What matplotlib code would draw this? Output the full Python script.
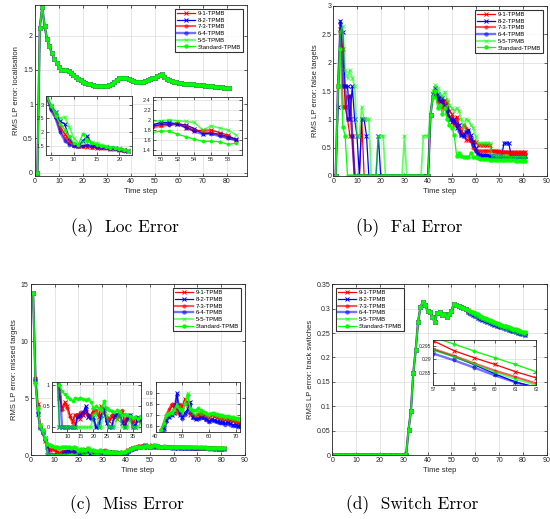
import numpy as np
import matplotlib
matplotlib.use("Agg")
import matplotlib.pyplot as plt

# ---------------- data ----------------
names = ["9-1-TPMB", "8-2-TPMB", "7-3-TPMB", "6-4-TPMB", "5-5-TPMB", "Standard-TPMB"]

# (a) localisation error: main curves overlap for all series
loc_common = [0.0, 2.12, 2.42, 2.15, 1.95, 1.85, 1.75, 1.66, 1.6, 1.55,
              1.5, 1.5, 1.5, 1.48, 1.45, 1.42, 1.4, 1.37, 1.35, 1.33,
              1.31, 1.3, 1.29, 1.28, 1.27, 1.27, 1.265, 1.265, 1.27, 1.27,
              1.28, 1.3, 1.33, 1.36, 1.38, 1.39, 1.39, 1.38, 1.37, 1.35,
              1.34, 1.33, 1.33, 1.33, 1.33, 1.34, 1.35, 1.37, 1.38, 1.39,
              1.41, 1.42, 1.44, 1.4, 1.37, 1.35, 1.34, 1.33, 1.32, 1.31,
              1.31, 1.3, 1.3, 1.295, 1.29, 1.29, 1.285, 1.28, 1.28, 1.275,
              1.27, 1.27, 1.265, 1.26, 1.255, 1.25, 1.25, 1.245, 1.24, 1.235, 1.23]
loc_steps = list(range(1, 82))

# (a) left inset (time steps 4..22)
loc_in1_t = list(range(4, 23))
loc_in1 = [
    [3.4, 2.9, 2.6, 2.2, 1.95, 1.7, 1.55, 1.5, 1.5, 1.48, 1.47, 1.45, 1.45, 1.42, 1.4, 1.38, 1.37, 1.35, 1.33],
    [3.4, 2.95, 2.75, 2.4, 2.3, 1.8, 1.55, 1.5, 1.7, 1.85, 1.55, 1.5, 1.48, 1.47, 1.45, 1.45, 1.4, 1.35, 1.33],
    [3.3, 2.85, 2.55, 2.1, 1.8, 1.6, 1.5, 1.48, 1.47, 1.5, 1.45, 1.44, 1.43, 1.42, 1.4, 1.38, 1.36, 1.34, 1.32],
    [3.3, 2.8, 2.5, 2.0, 1.7, 1.55, 1.5, 1.5, 1.5, 1.55, 1.5, 1.47, 1.45, 1.42, 1.4, 1.4, 1.36, 1.33, 1.32],
    [3.4, 3.0, 2.75, 2.5, 2.55, 2.2, 1.8, 1.6, 1.65, 1.75, 1.65, 1.6, 1.55, 1.5, 1.48, 1.45, 1.42, 1.38, 1.35],
    [3.3, 2.95, 2.6, 2.3, 2.1, 1.85, 1.6, 1.55, 1.95, 1.7, 1.6, 1.55, 1.5, 1.47, 1.45, 1.45, 1.4, 1.36, 1.34],
]
# (a) right inset (time steps 49..59)
loc_in2_t = list(range(49, 60))
loc_in2 = [
    [1.88, 1.9, 1.93, 1.92, 1.85, 1.78, 1.8, 1.8, 1.75, 1.7, 1.6],
    [1.9, 1.95, 1.95, 1.92, 1.9, 1.83, 1.73, 1.74, 1.72, 1.67, 1.62],
    [1.85, 1.88, 1.9, 1.93, 1.88, 1.8, 1.77, 1.75, 1.7, 1.65, 1.6],
    [1.87, 1.93, 1.9, 1.92, 1.85, 1.78, 1.72, 1.73, 1.68, 1.64, 1.6],
    [1.97, 1.98, 2.0, 1.98, 1.97, 1.95, 1.8, 1.88, 1.84, 1.8, 1.7],
    [1.75, 1.78, 1.78, 1.72, 1.67, 1.62, 1.58, 1.58, 1.57, 1.52, 1.54],
]

# (b) false targets error
fal = [
    [0, 1.58, 2.6, 2.24, 1.22, 1.0, 0.71, 0.71, 0, 0,
     0, 1.0, 0, 0, 0, 0, 0, 0, 0, 0,
     0, 0, 0, 0, 0, 0, 0, 0, 0, 0,
     0, 0, 0, 0, 0, 0, 0, 0, 0, 0,
     1.08, 1.45, 1.5, 1.35, 1.4, 1.3, 1.35, 1.3, 1.15, 1.1,
     0.95, 1.05, 0.9, 0.8, 0.75, 0.64, 0.63, 0.63, 0.62, 0.6,
     0.55, 0.55, 0.55, 0.55, 0.55, 0.55, 0.45, 0.44, 0.44, 0.44,
     0.43, 0.43, 0.43, 0.43, 0.43, 0.43, 0.42, 0.42, 0.42, 0.42, 0.42],
    [0, 1.22, 2.74, 2.55, 1.58, 1.58, 1.0, 1.58, 1.0, 0.71,
     0, 1.0, 1.0, 0.71, 0, 0, 0, 0, 0.71, 0,
     0, 0, 0, 0, 0, 0, 0, 0, 0, 0,
     0, 0, 0, 0, 0, 0, 0, 0, 0, 0,
     1.08, 1.45, 1.55, 1.45, 1.3, 1.38, 1.25, 1.2, 1.05, 0.95,
     1.0, 0.85, 0.9, 0.72, 0.7, 0.78, 0.82, 0.72, 0.6, 0.5,
     0.4, 0.38, 0.37, 0.37, 0.37, 0.36, 0.36, 0.36, 0.36, 0.36,
     0.36, 0.58, 0.58, 0.58, 0.36, 0.36, 0.35, 0.35, 0.35, 0.35, 0.35],
    [0, 1.58, 2.55, 1.22, 1.22, 1.41, 1.41, 0.71, 0, 0,
     0, 0, 0, 0, 0, 0, 0, 0, 0, 0,
     0, 0, 0, 0, 0, 0, 0, 0, 0, 0,
     0, 0, 0, 0, 0, 0, 0, 0, 0, 0,
     1.08, 1.4, 1.45, 1.3, 1.35, 1.2, 1.3, 1.1, 1.0, 1.05,
     0.9, 1.0, 0.85, 0.75, 0.9, 0.85, 0.7, 0.62, 0.5, 0.45,
     0.45, 0.45, 0.45, 0.45, 0.45, 0.45, 0.44, 0.44, 0.43, 0.43,
     0.42, 0.42, 0.42, 0.41, 0.41, 0.41, 0.4, 0.4, 0.4, 0.4, 0.4],
    [0, 1.58, 2.7, 1.58, 1.58, 1.0, 1.41, 0.71, 0, 0,
     0, 0, 0, 0, 0, 0, 0, 0, 0, 0,
     0, 0, 0, 0, 0, 0, 0, 0, 0, 0,
     0, 0, 0, 0, 0, 0, 0, 0, 0, 0,
     1.08, 1.42, 1.48, 1.38, 1.35, 1.3, 1.2, 1.15, 1.0, 1.0,
     0.95, 0.92, 0.8, 0.72, 0.7, 0.78, 0.8, 0.65, 0.55, 0.45,
     0.38, 0.36, 0.36, 0.35, 0.35, 0.35, 0.35, 0.35, 0.34, 0.34,
     0.34, 0.34, 0.34, 0.34, 0.34, 0.33, 0.33, 0.33, 0.33, 0.33, 0.33],
    [0, 1.58, 2.55, 2.64, 1.87, 1.73, 1.87, 1.73, 1.58, 0.71,
     0.71, 1.22, 1.0, 1.0, 1.0, 0, 0, 0, 0.71, 0.71,
     0.71, 0, 0, 0, 0, 0, 0, 0, 0, 0.71,
     0, 0, 0, 0, 0, 0, 0, 0.71, 0.71, 0.71,
     1.08, 1.5, 1.6, 1.55, 1.45, 1.4, 1.48, 1.35, 1.25, 1.2,
     1.15, 1.2, 1.15, 1.0, 0.85, 1.0, 0.98, 0.9, 0.85, 0.7,
     0.58, 0.58, 0.58, 0.58, 0.58, 0.58, 0.36, 0.36, 0.35, 0.35,
     0.35, 0.35, 0.35, 0.34, 0.34, 0.34, 0.34, 0.34, 0.34, 0.34, 0.34],
    [0, 1.58, 2.24, 0.87, 0.71, 0, 0, 0, 0, 0,
     0, 0, 0, 0, 0, 0, 0, 0, 0, 0,
     0, 0, 0, 0, 0, 0, 0, 0, 0, 0,
     0, 0, 0, 0, 0, 0, 0, 0, 0, 0,
     1.08, 1.4, 1.5, 1.2, 1.25, 1.1, 1.2, 1.0, 0.9, 0.85,
     0.72, 0.36, 0.4, 0.36, 0.34, 0.34, 0.34, 0.4, 0.33, 0.33,
     0.31, 0.3, 0.3, 0.3, 0.3, 0.29, 0.29, 0.29, 0.29, 0.29,
     0.28, 0.28, 0.28, 0.28, 0.28, 0.28, 0.27, 0.27, 0.27, 0.27, 0.27],
]

# (c) missed targets error
miss = [
    [14.2, 6.7, 4.5, 2.6, 2.2, 1.2, 0.7, 0.45, 0.6, 0.5, 0.3, 0.15, 0.3, 0.25, 0.2, 0.35, 0.35, 0.25, 0.3, 0.4,
     0.35, 0.25, 0.5, 0.4, 0.2, 0.15, 0.25, 0.3, 0.2, 0.35, 0.35, 0.1, 0.2, 0.25, 0.1, 0.2, 0.15, 0.2, 0.2, 0.25,
     0.4, 0.55, 0.6, 0.65, 0.72, 0.78, 0.8, 0.75, 0.72, 0.78, 0.85, 0.8, 0.7, 0.68, 0.68, 0.7, 0.72, 0.7, 0.68, 0.67,
     0.7, 0.69, 0.67, 0.66, 0.66, 0.65, 0.66, 0.65, 0.64, 0.63, 0.62, 0.62, 0.61, 0.61, 0.6, 0.6, 0.6, 0.59, 0.59, 0.58, 0.58],
    [14.2, 6.5, 3.6, 2.5, 2.0, 1.5, 0, 0, 0, 0, 0, 0, 0, 0.3, 0.3, 0.3, 0.5, 0.25, 0.25, 0.25,
     0, 0, 0.3, 0.45, 0.1, 0, 0, 0.3, 0.3, 0.35, 0.1, 0, 0.25, 0.3, 0, 0, 0.25, 0.2, 0.15, 0.2,
     0.35, 0.5, 0.58, 0.65, 0.68, 0.7, 0.72, 0.9, 0.7, 0.68, 0.72, 0.75, 0.82, 0.68, 0.66, 0.67, 0.68, 0.68, 0.66, 0.64,
     0.66, 0.65, 0.64, 0.63, 0.63, 0.62, 0.63, 0.62, 0.61, 0.61, 0.6, 0.6, 0.59, 0.59, 0.58, 0.58, 0.58, 0.57, 0.57, 0.57, 0.56],
    [14.2, 6.8, 4.4, 2.5, 2.1, 1.3, 1.0, 0.4, 0.55, 0.45, 0.25, 0.1, 0.3, 0.3, 0.35, 0.3, 0.4, 0.3, 0.25, 0.35,
     0.4, 0.3, 0.45, 0.35, 0.25, 0.2, 0.3, 0.25, 0.25, 0.3, 0.4, 0.15, 0.25, 0.2, 0.15, 0.25, 0.2, 0.2, 0.2, 0.3,
     0.42, 0.56, 0.62, 0.7, 0.75, 0.8, 0.78, 0.72, 0.8, 0.75, 0.8, 0.82, 0.72, 0.7, 0.69, 0.71, 0.7, 0.71, 0.69, 0.68,
     0.71, 0.7, 0.68, 0.67, 0.67, 0.66, 0.66, 0.65, 0.65, 0.64, 0.63, 0.63, 0.62, 0.62, 0.61, 0.61, 0.6, 0.6, 0.6, 0.59, 0.59],
    [14.2, 6.6, 3.7, 2.4, 1.9, 1.4, 1.0, 0, 0, 0, 0, 0, 0, 0.25, 0.3, 0.35, 0.45, 0.3, 0.2, 0.2,
     0, 0.1, 0.25, 0.4, 0.15, 0, 0, 0.25, 0.3, 0.3, 0.15, 0, 0.2, 0.3, 0, 0.05, 0.2, 0.15, 0.15, 0.2,
     0.3, 0.48, 0.55, 0.63, 0.68, 0.7, 0.75, 0.88, 0.72, 0.66, 0.7, 0.73, 0.8, 0.67, 0.66, 0.66, 0.67, 0.67, 0.65, 0.63,
     0.65, 0.64, 0.63, 0.62, 0.62, 0.61, 0.62, 0.61, 0.6, 0.6, 0.59, 0.59, 0.58, 0.58, 0.57, 0.57, 0.57, 0.56, 0.56, 0.56, 0.55],
    [14.2, 6.2, 4.0, 2.4, 2.0, 1.4, 0, 0, 0, 0, 0, 0, 0, 0, 0, 0, 0, 0, 0, 0.3,
     0.35, 0, 0, 0.6, 0.3, 0, 0, 0, 0.2, 0.35, 0, 0, 0, 0.2, 0, 0, 0, 0.1, 0.15, 0.2,
     0.38, 0.55, 0.6, 0.68, 0.7, 0.72, 0.75, 0.8, 0.74, 0.72, 0.8, 0.9, 0.74, 0.72, 0.7, 0.73, 0.72, 0.72, 0.7, 0.69,
     0.71, 0.7, 0.69, 0.68, 0.68, 0.67, 0.68, 0.67, 0.66, 0.66, 0.65, 0.65, 0.64, 0.64, 0.63, 0.63, 0.62, 0.62, 0.61, 0.61, 0.6],
    [14.2, 6.3, 4.1, 2.6, 2.2, 1.5, 1.0, 0.85, 0.78, 0.72, 0.68, 0.62, 0.7, 0.66, 0.7, 0.68, 0.65, 0.68, 0.6, 0.45,
     0.5, 0.45, 0.42, 0.62, 0.45, 0.4, 0.38, 0.35, 0.4, 0.35, 0.3, 0.32, 0.28, 0.27, 0.22, 0.25, 0.2, 0.25, 0.3, 0.35,
     0.45, 0.56, 0.62, 0.7, 0.72, 0.72, 0.74, 0.78, 0.75, 0.74, 0.8, 0.88, 0.76, 0.74, 0.74, 0.76, 0.74, 0.73, 0.72, 0.71,
     0.72, 0.72, 0.71, 0.7, 0.7, 0.69, 0.69, 0.68, 0.68, 0.67, 0.67, 0.66, 0.66, 0.65, 0.65, 0.64, 0.64, 0.63, 0.63, 0.62, 0.62],
]

# (d) track switches error: identical up to step 56, then per series
sw_common = [0, 0, 0, 0, 0, 0, 0, 0, 0, 0,
             0, 0, 0, 0, 0, 0, 0, 0, 0, 0,
             0, 0, 0, 0, 0, 0, 0, 0, 0, 0,
             0, 0.052, 0.09, 0.168, 0.215, 0.273, 0.303, 0.314, 0.308, 0.295,
             0.293, 0.283, 0.272, 0.292, 0.294, 0.288, 0.29, 0.283, 0.289, 0.295,
             0.309, 0.308, 0.306, 0.304, 0.301, 0.299]
sw_tail = [
    [0.297, 0.2933, 0.2906, 0.2881, 0.2854, 0.2831, 0.2808, 0.2786, 0.2765, 0.2745, 0.2725, 0.2706, 0.2688,
     0.267, 0.2652, 0.2635, 0.2618, 0.2601, 0.2585, 0.2569, 0.2553, 0.2538, 0.2523, 0.2508, 0.2494],
    [0.2937, 0.2911, 0.288, 0.2846, 0.2815, 0.2796, 0.2774, 0.2752, 0.2731, 0.2711, 0.2691, 0.2672, 0.2654,
     0.2636, 0.2619, 0.2602, 0.2585, 0.2569, 0.2553, 0.2538, 0.2523, 0.2508, 0.2494, 0.248, 0.2466],
    [0.2939, 0.2914, 0.2885, 0.2858, 0.2834, 0.281, 0.2787, 0.2765, 0.2744, 0.2724, 0.2704, 0.2685, 0.2667,
     0.2649, 0.2632, 0.2615, 0.2598, 0.2582, 0.2566, 0.2551, 0.2536, 0.2521, 0.2507, 0.2493, 0.2479],
    [0.2922, 0.2897, 0.2869, 0.284, 0.2814, 0.2792, 0.277, 0.2748, 0.2727, 0.2707, 0.2687, 0.2668, 0.265,
     0.2632, 0.2615, 0.2598, 0.2581, 0.2565, 0.2549, 0.2534, 0.2519, 0.2504, 0.249, 0.2476, 0.2462],
    [0.2935, 0.291, 0.2883, 0.2852, 0.2826, 0.2804, 0.2781, 0.2759, 0.2738, 0.2718, 0.2698, 0.2679, 0.2661,
     0.2643, 0.2626, 0.2609, 0.2592, 0.2576, 0.256, 0.2545, 0.253, 0.2515, 0.2501, 0.2487, 0.2473],
    [0.2983, 0.2958, 0.2931, 0.2906, 0.2881, 0.2854, 0.283, 0.2808, 0.2787, 0.2766, 0.2746, 0.2727, 0.2708,
     0.269, 0.2672, 0.2655, 0.2638, 0.2622, 0.2606, 0.259, 0.2575, 0.256, 0.2545, 0.2531, 0.2517],
]

# ---------------- styles ----------------
RED, BLUE, GREEN = (1, 0, 0), (0, 0, 1), (0, 1, 0)
styles = [
    dict(color=RED, marker="x", lw=0.9, ms=2.6, mew=0.7),
    dict(color=BLUE, marker="x", lw=0.9, ms=2.6, mew=0.7),
    dict(color=RED, marker="o", lw=1.5, ms=2.6, mew=0.3, alpha=0.65),
    dict(color=BLUE, marker="o", lw=1.7, ms=2.8, mew=0.3, alpha=0.55),
    dict(color=GREEN, marker="x", lw=1.3, ms=2.6, mew=0.7, alpha=0.6),
    dict(color=GREEN, marker="o", lw=0.9, ms=2.8, mew=0.3),
]
TXT = "#262626"
plt.rcParams["font.family"] = ["Liberation Sans", "DejaVu Sans"]

W, H = 550, 519
fig = plt.figure(figsize=(5.5, 5.19), dpi=100)


def box(x0, y0, x1, y1):
    return [x0 / W, 1 - y1 / H, (x1 - x0) / W, (y1 - y0) / H]


def style(ax, fs=5, glw=0.5):
    ax.tick_params(direction="in", length=2, width=0.5, top=True, right=True,
                   labelsize=fs, pad=1.5, colors=TXT)
    ax.grid(True, color="#dcdcdc", lw=glw)
    ax.set_axisbelow(True)
    for s in ax.spines.values():
        s.set_linewidth(0.6)
        s.set_color(TXT)


def plot_series(ax, x, y, st, scale=1.0):
    st2 = dict(st)
    st2["ms"] = st["ms"] * scale
    ax.plot(x, y, **st2)


def legend(ax, loc):
    lg = ax.legend(names, loc=loc, fontsize=4.3, frameon=True, fancybox=False,
                   edgecolor="black", borderpad=0.4, handlelength=3.0,
                   labelspacing=0.25, borderaxespad=0.6, handletextpad=0.4)
    lg.get_frame().set_linewidth(0.8)


INS = 0.85  # marker scale inside insets

# ---------- (a) ----------
axa = fig.add_axes(box(35, 5, 246.7, 176))
for st in styles:
    plot_series(axa, loc_steps, loc_common, st)
axa.set_xlim(0, 88.3)
axa.set_ylim(-0.05, 2.45)
axa.set_xticks([0, 10, 20, 30, 40, 50, 60, 70, 80])
axa.set_yticks([0, 0.5, 1, 1.5, 2])
axa.set_yticklabels(["0", "0.5", "1", "1.5", "2"])
style(axa)
axa.set_xlabel("Time step", fontsize=5.5, color=TXT, labelpad=2)
axa.set_ylabel("RMS LP error: localisation", fontsize=5.5, color=TXT, labelpad=2)
legend(axa, "upper right")

ia1 = fig.add_axes(box(46, 96, 132, 155))
for st, y in zip(styles, loc_in1):
    plot_series(ia1, loc_in1_t, y, st, INS)
ia1.set_xlim(3.9, 22.8)
ia1.set_ylim(1.18, 3.31)
ia1.set_xticks([5, 10, 15, 20])
ia1.set_yticks([1.5, 2, 2.5, 3])
ia1.set_yticklabels(["1.5", "2", "2.5", "3"])
style(ia1, fs=4)

ia2 = fig.add_axes(box(153, 97, 242, 155))
for st, y in zip(styles, loc_in2):
    plot_series(ia2, loc_in2_t, y, st, INS)
ia2.set_xlim(49.1, 59.66)
ia2.set_ylim(1.31, 2.45)
ia2.set_xticks([50, 52, 54, 56, 58])
ia2.set_yticks([1.4, 1.6, 1.8, 2.0, 2.2, 2.4])
ia2.set_yticklabels(["1.4", "1.6", "1.8", "2", "2.2", "2.4"])
style(ia2, fs=4)

# ---------- (b) ----------
axb = fig.add_axes(box(333.3, 6, 546.7, 176))
for st, y in zip(styles, fal):
    plot_series(axb, list(range(1, len(y) + 1)), y, st)
axb.set_xlim(0, 90)
axb.set_ylim(0, 3)
axb.set_xticks(range(0, 91, 10))
axb.set_yticks([0, 0.5, 1, 1.5, 2, 2.5, 3])
axb.set_yticklabels(["0", "0.5", "1", "1.5", "2", "2.5", "3"])
style(axb)
axb.set_xlabel("Time step", fontsize=5.5, color=TXT, labelpad=2)
axb.set_ylabel("RMS LP error: false targets", fontsize=5.5, color=TXT, labelpad=2)
legend(axb, "upper right")

# ---------- (c) ----------
axc = fig.add_axes(box(30.7, 284.3, 245, 455))
for st, y in zip(styles, miss):
    plot_series(axc, list(range(1, len(y) + 1)), y, st)
axc.set_xlim(0, 90)
axc.set_ylim(0, 15)
axc.set_xticks(range(0, 91, 10))
axc.set_yticks([0, 5, 10, 15])
style(axc)
axc.set_xlabel("Time step", fontsize=5.5, color=TXT, labelpad=2)
axc.set_ylabel("RMS LP error: missed targets", fontsize=5.5, color=TXT, labelpad=2)
legend(axc, "upper right")

ic1 = fig.add_axes(box(52.3, 382.3, 141, 431.7))
for st, y in zip(styles, miss):
    plot_series(ic1, list(range(1, len(y) + 1)), y, st, INS)
ic1.set_xlim(4.25, 38.2)
ic1.set_ylim(-0.104, 1.064)
ic1.set_xticks([10, 15, 20, 25, 30, 35])
ic1.set_yticks([0, 0.5, 1])
ic1.set_yticklabels(["0", "0.5", "1"])
style(ic1, fs=4)

ic2 = fig.add_axes(box(155.5, 382.3, 240, 431.7))
for st, y in zip(styles, miss):
    plot_series(ic2, list(range(1, len(y) + 1)), y, st, INS)
ic2.set_xticks([40, 50, 60, 70])
ic2.set_yticks([0.6, 0.7, 0.8, 0.9])
ic2.set_xlim(40.0, 71.6)
ic2.set_ylim(0.544, 1.0)
style(ic2, fs=4)

# ---------- (d) ----------
axd = fig.add_axes(box(332.3, 284.3, 546.7, 455))
sw = [sw_common + tail for tail in sw_tail]
for st, y in zip(styles, sw):
    plot_series(axd, list(range(1, len(y) + 1)), y, st)
axd.set_xlim(0, 90)
axd.set_ylim(0, 0.35)
axd.set_xticks(range(0, 91, 10))
axd.set_yticks([0, 0.05, 0.1, 0.15, 0.2, 0.25, 0.3, 0.35])
axd.set_yticklabels(["0", "0.05", "0.1", "0.15", "0.2", "0.25", "0.3", "0.35"])
style(axd)
axd.set_xlabel("Time step", fontsize=5.5, color=TXT, labelpad=2)
axd.set_ylabel("RMS LP error: track switches", fontsize=5.5, color=TXT, labelpad=2)
legend(axd, "upper left")

id1 = fig.add_axes(box(433.3, 340, 536, 385))
for st, y in zip(styles, sw):
    plot_series(id1, list(range(1, len(y) + 1)), y, st, INS)
id1.set_xlim(57, 62)
id1.set_ylim(0.2804, 0.2973)
id1.set_xticks([57, 58, 59, 60, 61, 62])
id1.set_yticks([0.285, 0.29, 0.295])
id1.set_yticklabels(["0.285", "0.29", "0.295"])
style(id1, fs=3.5)

# ---------- captions ----------
cap = dict(fontsize=12.5, family="cmr10", ha="center", va="center", color="black")
fig.text(125 / W, 1 - 228 / H, "(a)  Loc Error", **cap)
fig.text(409 / W, 1 - 228 / H, "(b)  Fal Error", **cap)
fig.text(127 / W, 1 - 505 / H, "(c)  Miss Error", **cap)
fig.text(412 / W, 1 - 505 / H, "(d)  Switch Error", **cap)

fig.savefig("out.png", dpi=100)
